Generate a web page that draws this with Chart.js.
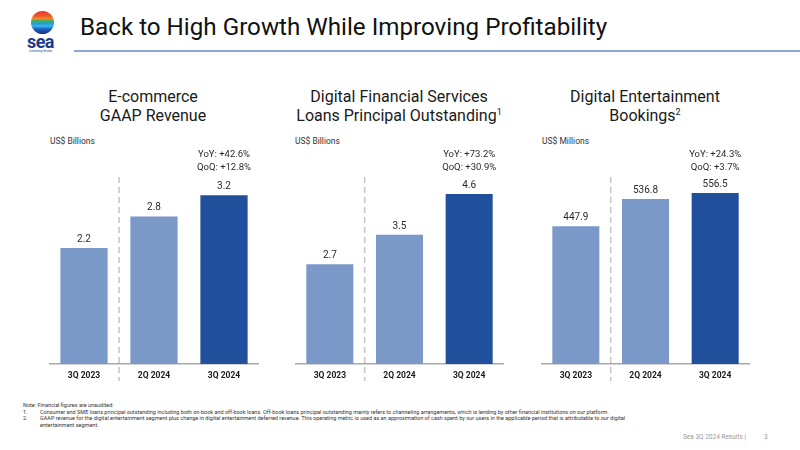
<!DOCTYPE html>
<html>
<head>
<meta charset="utf-8">
<script src="https://cdn.jsdelivr.net/npm/chart.js@4/dist/chart.umd.min.js"></script>
<style>
  html, body { margin:0; padding:0; background:#fff; }
  body { width:800px; height:450px; position:relative; overflow:hidden; font-family: Roboto, "Noto Sans", sans-serif; color:#222; }
  .abs { position:absolute; white-space:nowrap; }
  #title { left:80px; top:13px; font-size:24.2px; color:#111; }
  #rule { left:74px; top:50px; width:726px; height:1.5px; background:#8ea6d6; }
  #logoC { left:31px; top:11px; width:23px; height:23px; border-radius:50%;
    background: linear-gradient(180deg, #e8332c 0%, #f0592b 22%, #f58a2a 34%, #3fae5a 42%, #1fa0d8 55%, #38b6e8 66%, #1f5fbf 78%, #1b2f8a 100%); }
  #logoT { left:27px; top:31px; font-size:18px; font-weight:700; color:#1d3a8f; letter-spacing:-0.6px; font-family: Roboto, sans-serif; }
  #logoS { left:29px; top:50px; font-size:2.6px; color:#1d3a8f; }
  .ptitle { font-size:16px; line-height:18.5px; text-align:center; color:#1a1a1a; width:260px; }
  .unit { font-size:8.5px; color:#333; }
  canvas { position:absolute; }
  .fn { font-size:5.5px; color:#333; line-height:6.5px; }
  #foot { left:683px; top:433px; font-size:6.5px; color:#9a9a9a; }
  #pg { left:764px; top:433px; font-size:6.5px; color:#9a9a9a; }
</style>
</head>
<body>
<div id="logoC" class="abs"></div>
<div id="logoT" class="abs">sea</div>
<div id="logoS" class="abs">Connecting the dots</div>
<div id="title" class="abs">Back to High Growth While Improving Profitability</div>
<div id="rule" class="abs"></div>

<div class="abs ptitle" style="left:23px; top:88px;">E-commerce<br>GAAP Revenue</div>
<div class="abs ptitle" style="left:269px; top:88px;">Digital Financial Services<br>Loans Principal Outstanding<sup style="font-size:9px;line-height:0">1</sup></div>
<div class="abs ptitle" style="left:515px; top:88px;">Digital Entertainment<br>Bookings<sup style="font-size:9px;line-height:0">2</sup></div>

<div class="abs unit" style="left:50px; top:136px;">US$ Billions</div>
<div class="abs unit" style="left:295px; top:136px;">US$ Billions</div>
<div class="abs unit" style="left:542px; top:136px;">US$ Millions</div>

<canvas id="c1" width="210" height="250" style="left:49px; top:140px; width:210px; height:250px;"></canvas>
<canvas id="c2" width="209" height="250" style="left:295px; top:140px; width:209px; height:250px;"></canvas>
<canvas id="c3" width="209" height="250" style="left:541px; top:140px; width:209px; height:250px;"></canvas>

<div class="abs fn" style="left:23px; top:402px;">Note: Financial figures are unaudited.</div>
<div class="abs fn" style="left:23px; top:408.5px;">1.</div>
<div class="abs fn" style="left:40px; top:408.5px;">Consumer and SME loans principal outstanding including both on-book and off-book loans. Off-book loans principal outstanding mainly refers to channeling arrangements, which is lending by other financial institutions on our platform.</div>
<div class="abs fn" style="left:23px; top:415px;">2.</div>
<div class="abs fn" style="left:40px; top:415px;">GAAP revenue for the digital entertainment segment plus change in digital entertainment deferred revenue. This operating metric is used as an approximation of cash spent by our users in the applicable period that is attributable to our digital<br>entertainment segment.</div>

<div id="foot" class="abs">Sea 3Q 2024 Results |</div>
<div id="pg" class="abs">3</div>

<script>
// ---- Data ----
const quarters = ["3Q 2023", "2Q 2024", "3Q 2024"];
const ecommerceRevenue = [2.2, 2.8, 3.2];
const ecommerceLabels = ["2.2", "2.8", "3.2"];
const ecommerceGrowth = ["YoY: +42.6%", "QoQ: +12.8%"];
const dfsLoans = [2.7, 3.5, 4.6];
const dfsLabels = ["2.7", "3.5", "4.6"];
const dfsGrowth = ["YoY: +73.2%", "QoQ: +30.9%"];
const deBookings = [447.9, 536.8, 556.5];
const deLabels = ["447.9", "536.8", "556.5"];
const deGrowth = ["YoY: +24.3%", "QoQ: +3.7%"];
const axisMax = [3.68, 5.25, 631];

const LIGHT = "#7a98c8", DARK = "#20509c";
const FONT = "Roboto, 'Noto Sans', sans-serif";

const annot = {
  id: "annot",
  afterDatasetsDraw(chart, args, opts) {
    const ctx = chart.ctx;
    const meta = chart.getDatasetMeta(0);
    const area = chart.chartArea;
    ctx.save();
    ctx.fillStyle = "#2a2a2a";
    ctx.font = "10px " + FONT;
    ctx.textAlign = "center";
    ctx.textBaseline = "alphabetic";
    meta.data.forEach((bar, i) => {
      ctx.fillText(opts.labels[i], bar.x, bar.y - 6);
    });
    const last = meta.data[meta.data.length - 1];
    ctx.font = "9.5px " + FONT;
    ctx.fillText(opts.growth[0], last.x, 17);
    ctx.fillText(opts.growth[1], last.x, 30);
    const xd = (meta.data[0].x + meta.data[1].x) / 2;
    ctx.strokeStyle = "#c4c4c4";
    ctx.lineWidth = 1.5;
    ctx.setLineDash([6, 4]);
    ctx.beginPath();
    ctx.moveTo(xd, area.top + 7);
    ctx.lineTo(xd, area.bottom + 17);
    ctx.stroke();
    ctx.restore();
  }
};

function makeChart(id, values, labels, growth, ymax) {
  new Chart(document.getElementById(id), {
    type: "bar",
    data: {
      labels: quarters,
      datasets: [{
        data: values,
        backgroundColor: [LIGHT, LIGHT, DARK],
        borderWidth: 0,
        barPercentage: 0.675,
        categoryPercentage: 1.0
      }]
    },
    options: {
      responsive: false,
      animation: false,
      events: [],
      layout: { padding: { top: 30, left: 0, right: 0, bottom: 0 } },
      plugins: {
        legend: { display: false },
        tooltip: { enabled: false },
        annot: { labels: labels, growth: growth }
      },
      scales: {
        x: {
          grid: { display: false, drawTicks: false },
          border: { display: true, color: "#a8a8a8", width: 1.5 },
          ticks: { color: "#1a1a1a", font: { family: FONT, size: 8.5, weight: "bold" }, padding: 7 },
          afterFit: s => { s.height = 26; }
        },
        y: { display: false, min: 0, max: ymax }
      }
    },
    plugins: [annot]
  });
}

makeChart("c1", ecommerceRevenue, ecommerceLabels, ecommerceGrowth, axisMax[0]);
makeChart("c2", dfsLoans, dfsLabels, dfsGrowth, axisMax[1]);
makeChart("c3", deBookings, deLabels, deGrowth, axisMax[2]);
</script>
</body>
</html>
